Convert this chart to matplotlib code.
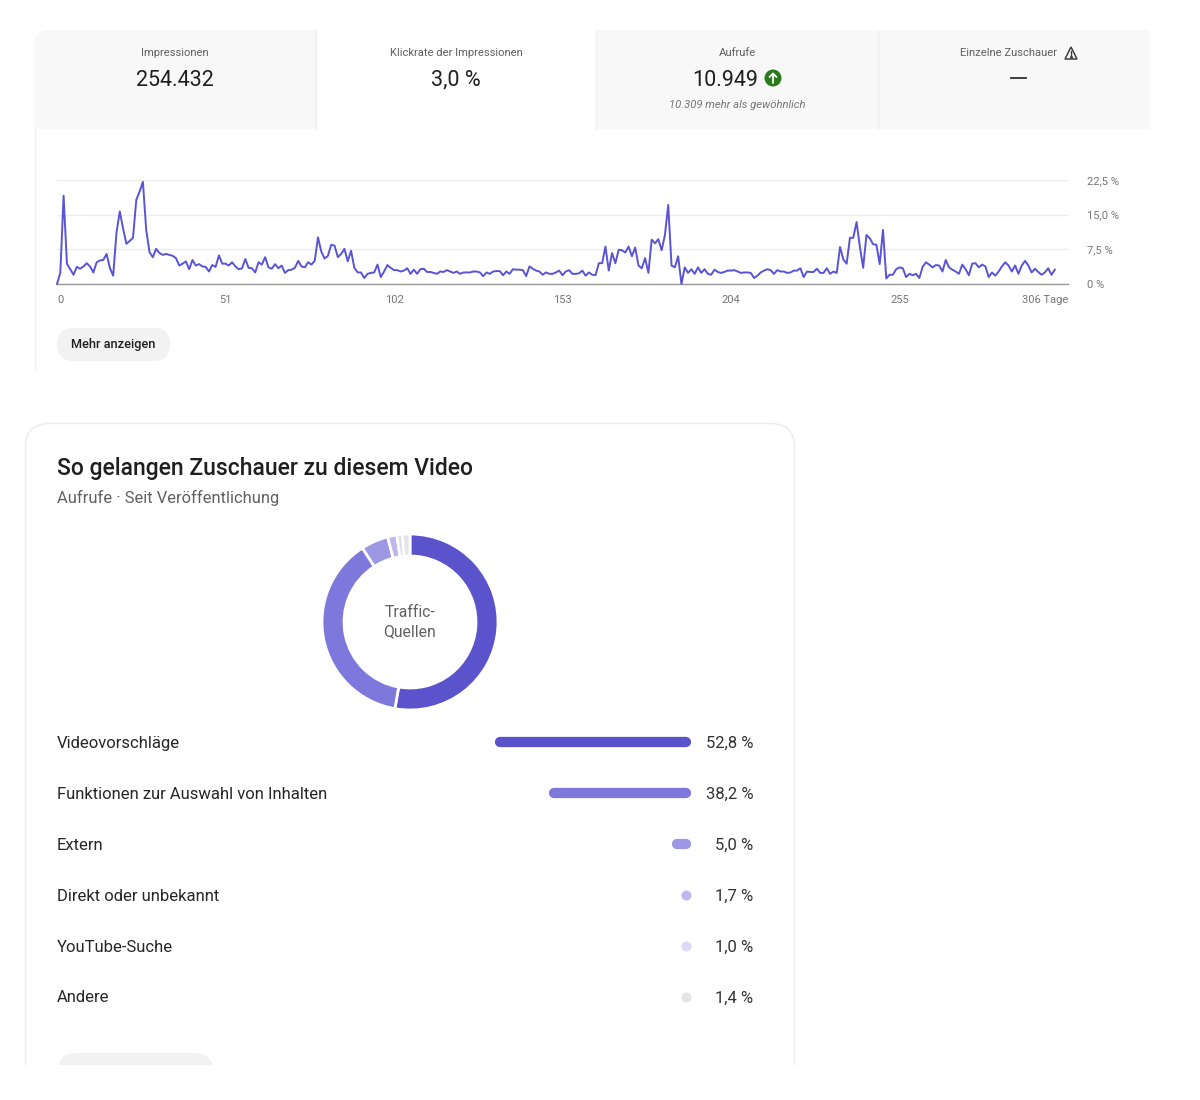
import matplotlib
matplotlib.use("Agg")
import matplotlib.pyplot as plt
from matplotlib.patches import Rectangle, FancyBboxPatch, Circle, Polygon

plt.rcParams["font.family"] = ["Roboto", "DejaVu Sans"]

W = 1200
H = 1100

# click rate per day
ctr = [0, 2.4, 19.1, 4.4, 3.2, 2.0, 3.7, 3.3, 3.8, 4.5, 3.8, 2.5, 4.7, 5.1, 5.2, 6.5, 3.5, 1.8, 11.1, 15.7,
       12.0, 8.7, 9.3, 10.0, 18.2, 20.0, 22.1, 11.7, 6.9, 5.8, 7.6, 6.7, 6.3, 6.5, 6.3, 6.1, 5.6, 4.0, 4.4, 4.9,
       3.2, 5.2, 4.0, 4.3, 3.8, 3.7, 2.7, 4.1, 3.7, 6.2, 4.4, 4.4, 4.0, 4.7, 3.8, 3.2, 3.4, 5.4, 3.5, 3.4,
       2.5, 4.7, 4.2, 5.8, 3.6, 3.3, 4.3, 3.4, 4.0, 2.4, 3.0, 3.1, 3.5, 5.0, 3.8, 3.6, 4.7, 4.2, 5.0, 10.1,
       7.0, 5.5, 6.1, 8.5, 8.3, 5.8, 6.5, 7.6, 4.9, 7.2, 3.5, 2.5, 2.5, 1.3, 2.2, 2.4, 2.5, 4.2, 1.5, 2.7,
       4.1, 3.5, 3.0, 3.0, 2.7, 2.9, 3.4, 2.2, 3.1, 2.2, 3.2, 3.3, 2.6, 2.6, 2.4, 2.2, 2.7, 2.6, 3.0, 2.7,
       2.4, 2.7, 2.2, 2.5, 2.5, 2.5, 2.7, 2.7, 2.5, 1.7, 2.5, 2.2, 2.7, 2.8, 2.8, 1.9, 2.7, 2.2, 3.2, 3.1,
       3.1, 3.0, 1.7, 3.8, 3.3, 2.9, 2.7, 2.0, 2.5, 2.2, 2.2, 2.5, 2.9, 1.9, 2.7, 3.0, 2.2, 2.2, 2.3, 2.9,
       1.8, 2.5, 2.0, 1.9, 4.5, 4.5, 8.1, 2.9, 6.7, 4.5, 7.4, 7.3, 6.8, 8.1, 6.0, 7.9, 4.0, 3.4, 5.6, 2.4,
       9.6, 8.8, 9.7, 7.3, 10.6, 17.1, 4.0, 3.6, 6.0, 0, 3.6, 2.4, 3.2, 2.2, 3.6, 2.4, 3.2, 2.2, 2.0, 3.1,
       2.6, 2.4, 2.6, 2.9, 2.9, 3.0, 2.7, 2.4, 2.5, 2.5, 2.4, 1.3, 1.8, 2.5, 2.9, 3.2, 3.0, 2.2, 3.0, 2.7,
       2.7, 2.4, 2.5, 2.9, 2.9, 3.4, 1.5, 2.7, 2.6, 2.6, 3.3, 2.4, 2.4, 3.4, 2.2, 2.7, 2.4, 8.0, 5.3, 4.4,
       10.0, 10.0, 13.4, 8.1, 3.5, 10.6, 9.9, 8.6, 8.5, 4.3, 11.7, 1.2, 2.0, 2.0, 3.2, 3.6, 3.4, 1.5, 2.2, 1.9,
       2.2, 1.3, 3.7, 4.7, 4.2, 3.6, 4.1, 4.0, 2.7, 5.2, 3.6, 3.1, 2.7, 2.2, 4.2, 3.2, 1.9, 4.4, 4.5, 3.6,
       4.2, 3.8, 1.5, 2.5, 1.8, 2.7, 3.8, 4.7, 4.0, 2.7, 4.0, 2.2, 4.0, 5.0, 4.0, 2.5, 3.3, 2.6, 2.0, 2.5,
       3.4, 2.0, 3.1]
day_ticks = [0, 51, 102, 153, 204, 255, 306]
day_labels = ["0", "51", "102", "153", "204", "255", "306 Tage"]
pct_ticks = [0, 7.5, 15, 22.5]
pct_labels = ["0 %", "7,5 %", "15,0 %", "22,5 %"]

tab_titles = ["Impressionen", "Klickrate der Impressionen", "Aufrufe", "Einzelne Zuschauer"]
tab_values = ["254.432", "3,0 %", "10.949", "—"]
tab_note = "10.309 mehr als gewöhnlich"

sources = ["Videovorschläge", "Funktionen zur Auswahl von Inhalten", "Extern",
           "Direkt oder unbekannt", "YouTube-Suche", "Andere"]
shares = [52.8, 38.2, 5.0, 1.7, 1.0, 1.4]
share_labels = ["52,8 %", "38,2 %", "5,0 %", "1,7 %", "1,0 %", "1,4 %"]
colors = ["#5a53cc", "#7e77dc", "#9d98e4", "#bdb8ee", "#dcdaf6", "#e4e4e4"]


def px_axes(x, y, w, h):
    return fig.add_axes([x / W, 1 - (y + h) / H, w / W, h / H])


fig = plt.figure(figsize=(W / 100, H / 100), dpi=100, facecolor="white")

# page layer in pixel coordinates
bg = fig.add_axes([0, 0, 1, 1])
bg.set_xlim(0, W)
bg.set_ylim(H, 0)
bg.axis("off")

# tab strip
bg.add_patch(FancyBboxPatch((34, 30), 1116, 120, boxstyle="round,pad=0,rounding_size=16",
                            fc="#f8f8f8", ec="none"))
bg.add_patch(Rectangle((1100, 30), 50, 99, fc="#f8f8f8", ec="none"))
bg.add_patch(Rectangle((20, 129), 1140, 30, fc="white", ec="none"))
bg.add_patch(Rectangle((316, 30), 280, 100, fc="white", ec="none"))
bg.plot([34.5, 34.5], [129, 370], color="#f0f0f0", lw=1)
for x in [316, 596, 878]:
    bg.plot([x, x], [30, 129], color="#f0f0f0", lw=1)

tab_x = [175, 456, 737, 1008]
for x, t, v in zip(tab_x, tab_titles, tab_values):
    bg.text(x, 53, t, ha="center", va="center", fontsize=8.1, color="#606060")
    if v != "—":
        tx = x - 12 if v == "10.949" else x
        bg.text(tx, 85.5, v, ha="center", va="baseline", fontsize=15.5, color="#1f1f1f")
bg.plot([1011, 1026], [77.5, 77.5], color="#303030", lw=1.3)
bg.text(737, 105, tab_note, ha="center", va="center", fontsize=8.1, style="italic", color="#757575")

# green arrow badge
bg.add_patch(Circle((773, 78), 8.5, fc="#2b7a1e", ec="none"))
bg.plot([773, 773], [82.5, 73.5], color="white", lw=1.3, solid_capstyle="round")
bg.plot([769.5, 773, 776.5], [77, 73.5, 77], color="white", lw=1.3, solid_capstyle="round")

# warning triangle
bg.add_patch(Polygon([(1071, 47), (1077, 59), (1065, 59)], closed=True, fc="none", ec="#404040", lw=1.1))
bg.plot([1071, 1071], [51, 55], color="#404040", lw=1)
bg.plot([1071], [57], marker="o", ms=1.2, color="#404040")

# button under the line chart
bg.add_patch(FancyBboxPatch((57, 328), 113, 33, boxstyle="round,pad=0,rounding_size=16.5",
                            fc="#f2f2f2", ec="none"))
bg.text(113.5, 344.5, "Mehr anzeigen", ha="center", va="center", fontsize=9.2, color="#1f1f1f", fontweight="medium")

# card, cut off at the lower edge of the screenshot
clip = Rectangle((0, 0), W, 1065, transform=bg.transData)
card = FancyBboxPatch((25.5, 423.5), 769, 700, boxstyle="round,pad=0,rounding_size=24",
                      fc="white", ec="#ebebeb", lw=1)
bg.add_patch(card)
card.set_clip_path(clip)
btn = FancyBboxPatch((58, 1053), 155, 36, boxstyle="round,pad=0,rounding_size=18", fc="#f2f2f2", ec="none")
bg.add_patch(btn)
btn.set_clip_path(clip)

bg.text(57, 468, "So gelangen Zuschauer zu diesem Video", ha="left", va="center", fontsize=16.5,
        color="#1f1f1f", fontweight="medium")
bg.text(57, 497.5, "Aufrufe · Seit Veröffentlichung", ha="left", va="center", fontsize=11.9, color="#606060")

# line chart
ax = px_axes(57, 180, 1011, 104)
ax.plot(range(len(ctr)), ctr, color="#5a53d6", lw=1.4, clip_on=False, zorder=3)
ax.set_xlim(0, 306)
ax.set_ylim(0, 22.5)
ax.set_xticks(day_ticks)
ax.set_xticklabels(day_labels, fontsize=8, color="#757575")
ax.get_xticklabels()[0].set_ha("left")
ax.get_xticklabels()[-1].set_ha("right")
ax.yaxis.tick_right()
ax.set_yticks(pct_ticks)
ax.set_yticklabels(pct_labels, fontsize=8, color="#757575")
ax.tick_params(axis="x", length=0, pad=8)
ax.tick_params(axis="y", length=0, pad=14)
ax.grid(True, axis="y", color="#ececec", lw=1)
ax.set_axisbelow(True)
for s in ["top", "left", "right"]:
    ax.spines[s].set_visible(False)
ax.spines["bottom"].set_color("#9a9a9a")
ax.spines["bottom"].set_linewidth(1)
ax.patch.set_alpha(0)

# donut
dn = px_axes(322, 534, 176, 176)
dn.pie(shares, colors=colors, startangle=90, counterclock=False, radius=1,
       wedgeprops={"width": 0.25, "edgecolor": "white", "linewidth": 2.0})
dn.set_xlim(-1, 1)
dn.set_ylim(-1, 1)
bg.text(410, 612.5, "Traffic-", ha="center", va="center", fontsize=11.3, color="#606060")
bg.text(410, 632, "Quellen", ha="center", va="center", fontsize=11.3, color="#606060")

# source rows
rows = [742.5, 793.5, 844.5, 895.5, 946, 997]
for y, name, lab in zip(rows, sources, share_labels):
    bg.text(57, y + 5.5, name, ha="left", va="baseline", fontsize=11.95, color="#262626")
    bg.text(753.5, y + 5.5, lab, ha="right", va="baseline", fontsize=11.95, color="#333333")

# bars, 3.71 px per percent, growing left from x=691
br = px_axes(491, 720, 200, 300)
br.set_xlim(200 / 3.71, 0)
br.set_ylim(1020, 720)
br.axis("off")
cap = 5 / 3.71
for y, v, c in zip(rows, shares, colors):
    if v > 2 * cap:
        br.hlines(y, cap, v - cap, color=c, lw=7.4, capstyle="round")
    else:
        # too short for a bar, the original shows a dot
        br.scatter([cap], [y], s=52, color=c, linewidths=0)

fig.savefig("out.png", dpi=100, facecolor="white")
